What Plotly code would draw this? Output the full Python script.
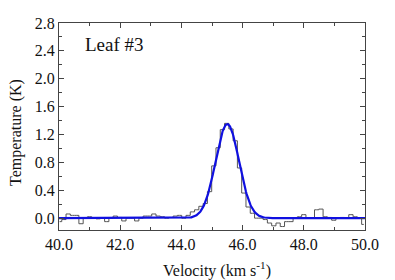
import numpy as np
import plotly.graph_objects as go

# Channel spectrum (velocity channel centres, km/s) and brightness temperature (K)
chan_start = 40.02
chan_width = 0.14
temperature = [
    -0.05, -0.02, 0.06, 0.04, 0.04, -0.08, 0.00, 0.02, 0.00, -0.01,
    0.00, -0.05, 0.00, 0.03, 0.01, -0.04, 0.00, 0.00, -0.04, 0.00,
    0.03, 0.03, 0.06, 0.03, 0.02, 0.00, 0.01, 0.03, 0.04, 0.00,
    0.04, 0.09, 0.12, 0.17, 0.21, 0.38, 0.75, 1.01, 1.27, 1.36,
    1.28, 1.11, 0.72, 0.36, 0.16, 0.07, 0.00, 0.00, -0.02, -0.07,
    -0.11, -0.07, -0.12, -0.05, -0.05, 0.00, 0.02, 0.05, 0.00, 0.00,
    0.12, 0.13, 0.02, 0.01, -0.03, 0.00, 0.01, 0.00, 0.05, 0.02,
    0.00, -0.09,
]
velocity = [round(chan_start + chan_width * i, 3) for i in range(len(temperature))]

# Gaussian fit parameters
fit_amp = 1.35
fit_center = 45.50
fit_fwhm = 0.90

fit_v = np.linspace(40.0, 50.0, 600)
fit_sigma = fit_fwhm / (2 * np.sqrt(2 * np.log(2)))
fit_t = fit_amp * np.exp(-0.5 * ((fit_v - fit_center) / fit_sigma) ** 2)

x_ticks = [40.0, 42.0, 44.0, 46.0, 48.0, 50.0]
y_ticks = [0.0, 0.4, 0.8, 1.2, 1.6, 2.0, 2.4, 2.8]

SERIF = "Liberation Serif"
TXT = "#111111"

fig = go.Figure()
fig.add_trace(go.Scatter(x=velocity, y=temperature, mode="lines", line_shape="hvh",
                         line=dict(color="#555555", width=1), showlegend=False,
                         hoverinfo="skip"))
fig.add_trace(go.Scatter(x=fit_v, y=fit_t, mode="lines",
                         line=dict(color="#1010e0", width=2.2), showlegend=False,
                         hoverinfo="skip"))

axis_common = dict(
    showline=True, linecolor="#444444", linewidth=1, mirror="ticks",
    ticks="inside", ticklen=5, tickwidth=1, tickcolor="#444444",
    showgrid=False, zeroline=False, automargin=False,
    tickfont=dict(family=SERIF, size=16, color=TXT),
)

fig.update_xaxes(
    range=[40.0, 50.0], tickvals=x_ticks, tickformat=".1f",
    minor=dict(ticks="inside", ticklen=3, dtick=1.0, tick0=40.0, tickcolor="#444444"),
    **axis_common,
)
fig.update_yaxes(
    range=[-0.17, 2.8], tickvals=y_ticks, tickformat=".1f",
    minor=dict(ticks="inside", ticklen=3, dtick=0.2, tick0=0.0, tickcolor="#444444"),
    **axis_common,
)

# axis titles as annotations for precise placement
fig.add_annotation(text="Velocity (km s<sup>-1</sup>)", x=0.517, y=-0.19,
                   xref="paper", yref="paper", xanchor="center", yanchor="middle",
                   showarrow=False, font=dict(family=SERIF, size=16, color=TXT))
fig.add_annotation(text="Temperature (K)", x=-0.143, y=0.47, textangle=-90,
                   xref="paper", yref="paper", xanchor="center", yanchor="middle",
                   showarrow=False, font=dict(family=SERIF, size=16, color=TXT))

fig.add_annotation(text="Leaf #3", x=0.08, y=0.895, xref="paper", yref="paper",
                   xanchor="left", yanchor="middle", showarrow=False,
                   font=dict(family=SERIF, size=19, color=TXT))

fig.update_layout(
    width=387, height=272,
    margin=dict(l=51, r=29.5, t=15.3, b=50),
    paper_bgcolor="white", plot_bgcolor="white",
)

fig.write_html("out.html")
